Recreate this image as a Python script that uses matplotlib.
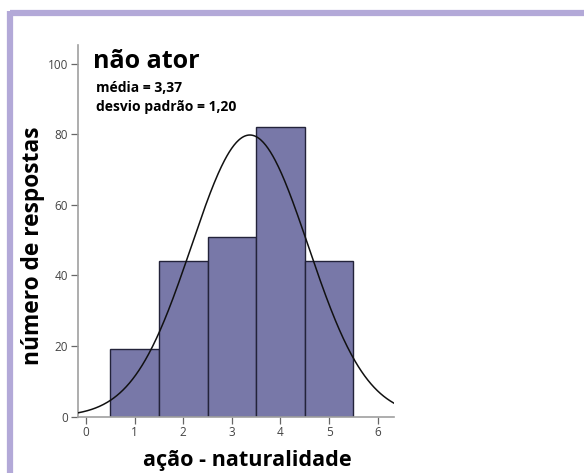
import numpy as np
import matplotlib.pyplot as plt
from matplotlib import font_manager
from matplotlib.lines import Line2D

# respostas por nível (escala 1-5)
niveis = [1, 2, 3, 4, 5]
contagens = [19, 44, 51, 82, 44]
media = 3.37
desvio = 1.20
titulo = 'não ator'
eixo_x = 'ação - naturalidade'
eixo_y = 'número de respostas'

plt.rcParams['font.family'] = ['Open Sans', 'DejaVu Sans']

# arquivo do Open Sans Bold de largura normal
negrito = None
for f in sorted(font_manager.findSystemFonts()):
    nome = f.split('/')[-1].lower()
    if 'opensans' in nome.replace('-', '').replace('_', '') and 'bold' in nome \
            and not any(k in nome for k in ['condensed', 'italic', 'extra', 'semi']):
        negrito = font_manager.FontProperties(fname=f)
        break
if negrito is None:
    negrito = font_manager.FontProperties(family='Open Sans', weight='bold')

W, H = 584, 473
fig = plt.figure(figsize=(W / 100, H / 100), dpi=100)

# moldura lilás (só topo e esquerda)
moldura = '#b3a9d8'
fig.add_artist(Line2D([9.5 / W, 1], [1 - 13 / H, 1 - 13 / H], color=moldura,
                      lw=4.5, transform=fig.transFigure, solid_capstyle='butt'))
fig.add_artist(Line2D([9.5 / W, 9.5 / W], [0, 1 - 10.8 / H], color=moldura,
                      lw=4.5, transform=fig.transFigure, solid_capstyle='butt'))

x0, x1, y0, y1 = 78, 394, 416.5, 45
ax = fig.add_axes([x0 / W, 1 - y0 / H, (x1 - x0) / W, (y0 - y1) / H])

ax.bar(niveis, contagens, width=1.0, color='#7878a8', edgecolor='#23233a',
       linewidth=1.0, zorder=2)

# curva normal ajustada
n = sum(contagens)
xs = np.linspace(-0.165, 6.335, 400)
ys = n / (desvio * np.sqrt(2 * np.pi)) * np.exp(-0.5 * ((xs - media) / desvio) ** 2)
ax.plot(xs, ys, color='#111111', lw=1.1, zorder=3)

ax.set_xlim(-0.165, 6.335)
ax.set_ylim(0, 105.3)
ax.set_xticks(range(0, 7))
ax.set_yticks(range(0, 101, 20))

for s in ['top', 'right']:
    ax.spines[s].set_visible(False)
for s in ['left', 'bottom']:
    ax.spines[s].set_color('#a0a0a0')
    ax.spines[s].set_linewidth(1.2)
ax.tick_params(axis='both', colors='#444444', labelsize=8.5, length=5,
               width=0.9, pad=2)
ax.tick_params(axis='both', color='#666666')

def texto(x, y, s, tam, **kw):
    fp = negrito.copy()
    fp.set_size(tam)
    fig.text(x / W, 1 - y / H, s, fontproperties=fp, **kw)

texto(247, 460, eixo_x, 15.6, ha='center', va='center')
texto(33, 246, eixo_y, 16.4, ha='center', va='center', rotation=90)
texto(93, 62, titulo, 18, ha='left', va='center')
texto(96, 88, ('média = %.2f' % media).replace('.', ','), 10,
      ha='left', va='center')
texto(96, 107, ('desvio padrão = %.2f' % desvio).replace('.', ','), 10,
      ha='left', va='center')

fig.savefig('out.png', dpi=100, facecolor='white')
